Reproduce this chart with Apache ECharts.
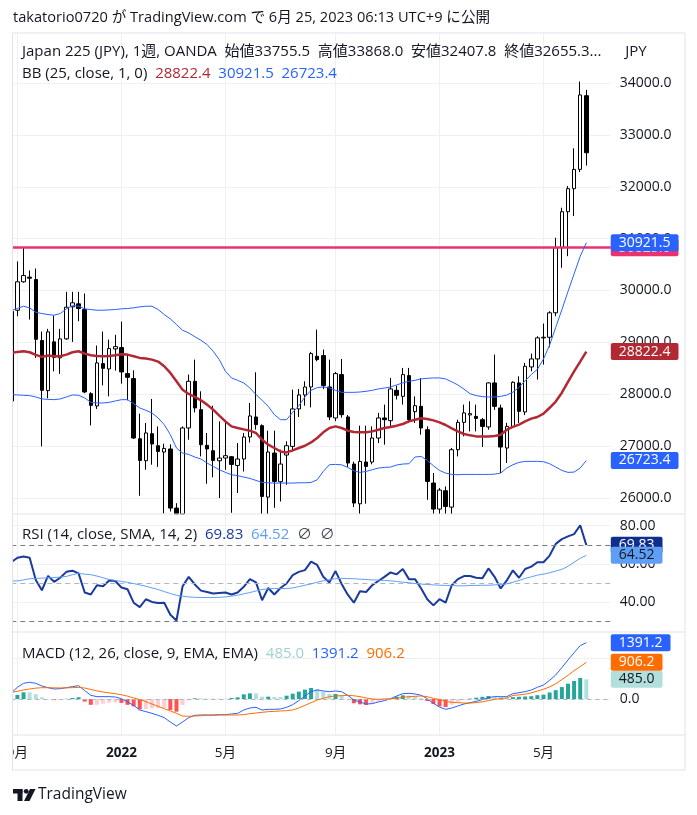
<!DOCTYPE html>
<html><head><meta charset="utf-8">
<script src="https://cdn.jsdelivr.net/npm/echarts@6/dist/echarts.min.js"></script>
<style>html,body{margin:0;padding:0;background:#fff;}#c{width:697px;height:815px;}</style>
</head><body><div id="c"></div>
<script>
// ---- weekly categories (Japan 225, 1W) ----
const firstWeek = '2021-08-30';
const categoryCount = 99; // 95 bars + right margin
const tickLabels = {'2021-09-06':'9月','2022-01-03':'2022','2022-05-02':'5月','2022-09-05':'9月','2023-01-02':'2023','2023-05-01':'5月'};
const mainTicks = [26000,27000,28000,29000,30000,31000,32000,33000,34000];
const rsiTicks = [40,60,80];
const macdTicks = [0,1000];
const levelLine = 30825;

const opens = [27870,29620,30168,30257,30212,29035,28070,29010,28702,29068,
29685,29743,29633,28012,27775,28591,28488,28875,28900,28398,
28302,27143,26719,27240,27008,26887,26945,25806,25170,27350,
28250,27703,27015,26912,26719,26771,26796,26628,26752,27176,
27562,27395,26018,26867,26314,26829,26995,27717,27987,28141,
28732,28746,28141,27543,28379,27563,26655,25889,26694,26694,
27157,27543,27491,28076,27960,28360,27665,27767,27317,26289,
25787,26140,25825,26931,27458,27601,27574,27510,27370,28219,
27736,26964,27381,28219,27659,28527,28681,29087,29099,29570,
30824,31519,31963,32335,33755.5];
const highs = [29650,30560,30830,30386,30425,29209,29261,29517,29261,29975,
29975,29975,29942,28040,28939,29209,29054,29145,29402,28765,
28462,27626,27447,27910,27380,27047,27034,25900,27380,28379,
28668,28057,27254,27780,27477,27491,26810,27060,27254,27833,
28423,27420,27298,27298,26931,27092,28089,28103,28250,28817,
29247,28861,28668,28430,28681,27600,26700,27395,27395,27381,
27640,27800,28315,28166,28508,28508,27960,28315,27381,26482,
26192,26223,26964,27510,27800,27864,27800,27543,28231,28765,
27800,27450,28250,28346,28605,28784,29118,29363,29601,31017,
31596,32013,32741,34028,33868.0];
const lows = [27850,29504,30150,29440,28700,26995,27921,28442,28392,29050,
29010,29408,28020,27400,27717,28172,27960,28456,28205,27883,
27138,26043,26545,26642,26600,25700,25740,24700,25050,27124,
27650,26802,26275,26400,26000,26545,25715,26096,26512,27072,
27317,25600,25600,25812,25933,26256,26898,27563,27780,27748,
28636,28100,27500,27480,27550,26600,25825,25600,25889,26650,
27060,27028,27381,27900,27800,27447,27447,27221,25966,25650,
25650,25650,25650,26802,27188,27285,27285,26983,27317,27700,
26482,26675,27350,27447,27600,28442,28282,28572,28906,29504,
30438,30662,31434,32283,32407.8];
const closes = [29600,30168,30290,30237,29060,28076,29203,28713,29068,29678,
29763,29653,28044,27786,28604,28500,28881,28919,28431,28327,
27157,26725,27254,27041,26898,26956,25806,25160,27350,28250,
27736,27028,26945,26725,26770,26816,26648,26752,27176,27582,
27414,26030,26887,26320,26655,27008,27717,27987,28141,28784,
28668,28166,27563,28398,27607,26675,25903,26705,26609,27157,
27543,27510,28103,27980,28379,27510,27780,27350,26320,25787,
26154,25837,26931,27458,27640,27626,27535,27381,28219,27767,
26983,27381,28231,27671,28539,28681,29087,29099,29570,30824,
31519,31963,32335,33770,32655.3];

const bbUpper = [29614,29653,29697,29666,29582,29556,29537,29524,29556,29647,
29711,29697,29647,29633,29620,29620,29627,29633,29647,29653,
29666,29685,29697,29697,29633,29537,29453,29344,29234,29183,
29110,29041,28958,28829,28668,28443,28315,28269,28219,28122,
27993,27883,27767,27607,27510,27510,27652,27780,27948,28076,
28128,28141,28122,28076,28037,28037,28037,28044,28057,28076,
28103,28120,28141,28180,28219,28250,28269,28296,28307,28315,
28315,28296,28240,28180,28100,28010,27974,27954,27948,27948,
27960,27985,28040,28135,28260,28380,28480,28680,28950,29290,
29630,29980,30320,30660,30921.5];
const bbLower = [27993,27987,27980,27974,27948,27910,27902,27896,27910,27948,
27987,27980,27929,27844,27832,27832,27844,27871,27896,27896,
27819,27736,27690,27640,27543,27414,27221,26964,26867,26840,
26790,26752,26675,26609,26545,26494,26449,26430,26404,26378,
26339,26300,26294,26288,26288,26288,26288,26294,26294,26300,
26352,26513,26642,26648,26640,26590,26526,26494,26513,26545,
26578,26590,26597,26636,26655,26661,26790,26802,26725,26622,
26532,26481,26455,26449,26455,26455,26455,26455,26455,26460,
26481,26578,26642,26687,26706,26706,26706,26700,26661,26597,
26532,26494,26500,26578,26723.4];
const bbBasis = [28797,28817,28829,28810,28759,28720,28746,28733,28733,28765,
28810,28829,28784,28752,28739,28733,28739,28752,28771,28765,
28733,28701,28688,28668,28630,28540,28411,28250,28089,28006,
27948,27883,27800,27703,27588,27478,27381,27350,27323,27298,
27254,27124,27028,26964,26898,26879,26918,26964,27008,27072,
27157,27266,27350,27381,27350,27298,27273,27266,27266,27285,
27317,27350,27370,27395,27427,27478,27510,27536,27523,27497,
27458,27408,27343,27285,27234,27208,27188,27188,27188,27195,
27221,27317,27370,27414,27478,27530,27562,27626,27740,27860,
28030,28240,28440,28630,28822.4];

const rsi = [60.9,63.3,63.9,63.3,51.6,46.3,53.8,50.7,52.8,55.9,
56.5,55.1,45.1,44.1,48.9,48.4,51.4,51.1,47.7,46.8,
39.8,37.5,41.6,40.2,39.6,39.8,33.5,30.5,48.4,53.3,
49.3,46.1,45.4,44.6,44.9,45.1,44.1,45.1,48.1,52.1,
50.4,41.1,47.5,44.1,47.5,49.8,54.2,55.9,56.8,61.2,
59.5,53.3,50.4,56.3,49.6,44.0,39.8,45.8,45.4,48.9,
51.1,53.3,55.6,54.6,57.4,52.1,52.1,47.2,41.6,38.4,
41.6,39.8,48.9,52.1,53.7,53.7,52.8,52.5,57.7,53.3,
47.2,51.4,56.7,52.8,57.4,58.6,60.9,60.9,64.4,70.5,
73.0,74.4,75.6,80.2,69.83];
const rsiMa = [51.1,51.2,51.7,52.3,52.5,52.6,52.8,52.9,53.2,53.5,
54.4,55.1,54.7,54.4,53.7,52.8,51.9,51.4,50.9,50.4,
49.8,49.1,48.4,47.5,46.7,45.6,44.6,43.7,43.2,42.8,
42.6,42.5,42.5,42.5,42.6,42.8,43.2,43.7,44.4,45.1,
45.9,46.7,47.0,47.2,47.2,47.2,47.5,48.2,48.9,49.6,
50.5,51.2,51.9,52.3,52.5,52.4,52.3,52.1,51.9,51.7,
51.6,51.4,51.2,50.9,50.5,50.2,49.8,49.5,49.3,49.1,
48.9,48.8,48.8,48.6,48.6,48.8,48.8,48.9,48.9,49.1,
49.3,49.6,50.5,51.4,52.5,53.3,54.2,54.7,55.4,56.3,
57.2,58.8,60.9,63.0,64.52];

const macd = [150,289,387,412,387,321,280,247,255,280,
305,330,206,91,58,58,58,49,8,-74,
-157,-272,-313,-354,-403,-461,-568,-667,-568,-461,
-403,-395,-395,-395,-387,-387,-370,-354,-272,-222,
-206,-272,-255,-255,-247,-206,-140,-41,74,181,
222,198,181,198,180,91,-25,-74,-124,-115,
-74,-41,8,74,132,140,124,91,8,-107,
-198,-255,-222,-173,-124,-91,-58,-16,33,58,
58,58,132,156,181,222,289,346,461,593,
774,963,1144,1318,1391.2];
const signal = [165,190,222,247,268,278,279,275,272,274,
280,287,270,235,200,172,150,130,105,70,
25,-16,-66,-124,-181,-239,-296,-354,-420,-428,
-420,-412,-403,-403,-395,-395,-395,-395,-387,-362,
-346,-329,-313,-305,-296,-288,-272,-222,-157,-91,
-25,16,58,74,82,88,80,58,25,0,
-8,0,8,16,41,58,66,74,58,16,
-16,-58,-82,-91,-100,-100,-90,-70,-40,-10,
10,25,87,101,119,152,195,240,300,375,
480,585,700,798,906.2];
const hist = [-15,99,165,165,119,43,1,-28,-17,6,
25,43,-64,-144,-142,-114,-92,-81,-97,-144,
-182,-256,-247,-230,-222,-222,-272,-313,-148,-33,
17,17,8,8,8,8,25,41,115,140,
140,57,58,50,49,82,132,181,231,272,
247,182,123,124,98,3,-105,-132,-149,-115,
-66,-41,0,58,91,82,58,17,-50,-123,
-182,-197,-140,-82,-24,9,32,54,73,68,
48,33,45,55,62,70,94,106,161,218,
294,378,444,520,485.0];

// ---- build ----
const FONT = '"Open Sans", "Noto Sans CJK JP", sans-serif';
const DARK = '#131722';
const AXF = 14;   // axis / tag font
const LGF = 15;   // legend font
const MAIN_MIN = 25692, MAIN_MAX = 34964;
const dates = [];
const t0 = Date.parse(firstWeek + 'T00:00:00Z');
for (let i = 0; i < categoryCount; i++) dates.push(new Date(t0 + i * 7 * 864e5).toISOString().slice(0, 10));
// candles are cut at the bottom edge of the price pane, as in the original
const clipLow = v => Math.max(v, MAIN_MIN);
const candles = opens.map((o, i) => [clipLow(o), clipLow(closes[i]), clipLow(lows[i]), clipLow(highs[i])]);
const last = a => a[a.length - 1];
const fmt = (v, d) => Number(v).toFixed(d);

const GL = 11.3, GRX = 610.8, GR = 697 - GRX;
const isTick = (idx, val) => tickLabels[val] !== undefined;
function xAx(gi, show) {
  return {
    type: 'category', gridIndex: gi, data: dates, boundaryGap: false,
    axisLine: {show: false}, axisTick: {show: false},
    axisLabel: {show: show, interval: isTick, margin: 11, color: DARK, fontSize: 13.5, fontFamily: FONT,
      formatter: v => { const t = tickLabels[v]; if (!t) return ''; return /^\d{4}$/.test(t) ? '{b|' + t + '}' : t; },
      rich: {b: {fontWeight: 'bold', fontSize: 13.5, fontFamily: FONT, color: DARK}}},
    splitLine: {show: true, interval: isTick, lineStyle: {color: '#EEF0F6', width: 1}}
  };
}
function yAx(gi, min, max, ticks, labels, dec) {
  return {
    type: 'value', gridIndex: gi, position: 'right', min: min, max: max,
    axisLine: {show: false}, axisTick: {show: false, customValues: ticks},
    axisLabel: {customValues: labels, margin: 9, color: DARK, fontSize: AXF, fontFamily: FONT, formatter: v => fmt(v, dec)},
    splitLine: {show: true, lineStyle: {color: '#EEF0F6', width: 1}}
  };
}
function tag(value, text, bg, fg) {
  return {yAxis: value, lineStyle: {color: 'rgba(0,0,0,0)', width: 0},
    label: {show: true, position: 'end', formatter: text, backgroundColor: bg, color: fg,
      padding: [2, 8, 1, 8], fontSize: AXF, fontFamily: FONT, distance: 0, borderRadius: 2}};
}
function ml(data) { return {silent: true, symbol: ['none', 'none'], animation: false, label: {show: false}, data: data}; }
function line(gi, data, color, width, z, mark) {
  const s = {type: 'line', xAxisIndex: gi, yAxisIndex: gi, data: data, showSymbol: false, symbol: 'none',
    lineStyle: {color: color, width: width}, itemStyle: {color: color}, z: z, silent: true};
  if (mark) s.markLine = ml(mark);
  return s;
}
function txt(x, y, parts, size, extra) {
  const rich = {}; let s = '';
  parts.forEach((p, k) => { rich['p' + k] = {fill: p[1], fontSize: size, fontFamily: FONT, fontWeight: p[2] || 'normal'}; s += '{p' + k + '|' + p[0] + '}'; });
  return {type: 'text', x: x, y: y, z: 200, silent: true,
    style: Object.assign({text: s, rich: rich, fontSize: size, fontFamily: FONT, verticalAlign: 'middle', textVerticalAlign: 'middle'}, extra || {})};
}
function histColor(p) {
  const i = p.dataIndex, v = hist[i], pv = i > 0 ? hist[i - 1] : 0;
  if (v >= 0) return v > pv ? '#26A69A' : '#B2DFDB';
  return v < pv ? '#FF5252' : '#FFCDD2';
}

const chart = echarts.init(document.getElementById('c'));
chart.setOption({
  animation: false,
  backgroundColor: '#ffffff',
  grid: [
    {left: GL, right: GR, top: 33, height: 481},
    {left: GL, right: GR, top: 514, height: 118},
    {left: GL, right: GR, top: 632, height: 103}
  ],
  xAxis: [xAx(0, false), xAx(1, false), xAx(2, true)],
  yAxis: [
    yAx(0, MAIN_MIN, MAIN_MAX, mainTicks, mainTicks, 1),
    yAx(1, 24.5, 86.1, rsiTicks, rsiTicks, 2),
    yAx(2, -889, 1654, macdTicks, [0], 1)
  ],
  series: [
    {type: 'candlestick', xAxisIndex: 0, yAxisIndex: 0, data: candles, barWidth: 4, z: 2, silent: true,
      itemStyle: {color: '#FFFFFF', color0: '#000000', borderColor: '#000000', borderColor0: '#000000', borderWidth: 1},
      markLine: {silent: true, symbol: ['none', 'none'], animation: false,
        data: [{yAxis: levelLine, lineStyle: {color: '#E8336E', width: 2.5, type: 'solid'},
          label: {show: true, position: 'end', formatter: fmt(levelLine, 1), backgroundColor: '#E8336E', color: '#fff',
            padding: [2, 8, 1, 8], fontSize: AXF, fontFamily: FONT, distance: 0, borderRadius: 2}}]}},
    line(0, bbBasis, '#B22833', 2.5, 3, [tag(last(bbBasis), fmt(last(bbBasis), 1), '#B22833', '#fff')]),
    line(0, bbLower, '#2962FF', 1, 4, [tag(last(bbLower), fmt(last(bbLower), 1), '#2962FF', '#fff')]),
    line(0, bbUpper, '#2962FF', 1, 5, [tag(last(bbUpper), fmt(last(bbUpper), 1), '#2962FF', '#fff')]),
    line(1, rsi, '#1A3A9C', 2, 4, [
      {yAxis: 70, lineStyle: {color: '#787B86', width: 1, type: [5, 4]}},
      {yAxis: 50, lineStyle: {color: '#B2B5BE', width: 1, type: [5, 4]}},
      {yAxis: 30, lineStyle: {color: '#787B86', width: 1, type: [5, 4]}},
      tag(last(rsi), fmt(last(rsi), 2), '#0E2F8E', '#fff')]),
    line(1, rsiMa, '#5E9FF5', 1, 5, [tag(last(rsiMa), fmt(last(rsiMa), 2), '#5E9FF5', DARK)]),
    {type: 'bar', xAxisIndex: 2, yAxisIndex: 2, data: hist, barWidth: 4, z: 2, silent: true,
      itemStyle: {color: histColor},
      markLine: ml([{yAxis: 0, lineStyle: {color: '#B2B5BE', width: 1, type: [4, 4]}},
        tag(last(hist), fmt(last(hist), 1), '#B2DFDB', DARK)])},
    line(2, macd, '#2962FF', 1, 4, [tag(last(macd), fmt(last(macd), 1), '#2962FF', '#fff')]),
    line(2, signal, '#FF6D00', 1, 5, [tag(last(signal), fmt(last(signal), 1), '#FF6D00', '#fff')])
  ],
  graphic: [
    {type: 'rect', z: 150, silent: true, shape: {x: 0, y: 30, width: 12.5, height: 745}, style: {fill: '#ffffff'}},
    {type: 'rect', z: 160, silent: true, shape: {x: 12.5, y: 33, width: 672.5, height: 737}, style: {fill: 'none', stroke: '#E0E3EB', lineWidth: 1}},
    {type: 'line', z: 160, silent: true, shape: {x1: 12.5, y1: 514, x2: 685, y2: 514}, style: {stroke: '#E0E3EB', lineWidth: 1}},
    {type: 'line', z: 160, silent: true, shape: {x1: 12.5, y1: 632, x2: 685, y2: 632}, style: {stroke: '#E0E3EB', lineWidth: 1}},
    {type: 'line', z: 160, silent: true, shape: {x1: 12.5, y1: 735, x2: 685, y2: 735}, style: {stroke: '#E0E3EB', lineWidth: 1}},
    txt(13, 18, [['takatorio0720 が TradingView.com で 6月 25, 2023 06:13 UTC+9 に公開', DARK]], 14.6),
    txt(22, 52, [['Japan 225 (JPY), 1週, OANDA  始値' + fmt(last(opens), 1) + '  高値' + fmt(last(highs), 1) + '  安値' + fmt(last(lows), 1) + '  終値' + fmt(last(closes), 1).slice(0, 7) + '...', DARK]], LGF),
    txt(22, 74, [['BB (25, close, 1, 0)  ', DARK], [fmt(last(bbBasis), 1), '#B22833'], ['  ' + fmt(last(bbUpper), 1), '#2962FF'], ['  ' + fmt(last(bbLower), 1), '#2962FF']], LGF),
    txt(636, 52, [['JPY', DARK]], LGF, {align: 'center', textAlign: 'center'}),
    txt(22, 535, [['RSI (14, close, SMA, 14, 2)  ', DARK], [fmt(last(rsi), 2), '#1A3A9C'], ['  ' + fmt(last(rsiMa), 2), '#5E9FF5'], ['  ∅  ∅', '#4A4E5A']], LGF),
    txt(22, 654, [['MACD (12, 26, close, 9, EMA, EMA)  ', DARK], [fmt(last(hist), 1), '#9FD3CE'], ['  ' + fmt(last(macd), 1), '#2962FF'], ['  ' + fmt(last(signal), 1), '#FF6D00']], LGF),
    {type: 'group', z: 200, silent: true, children: [
      {type: 'rect', shape: {x: 13, y: 789, width: 9.5, height: 4.5}, style: {fill: DARK}},
      {type: 'rect', shape: {x: 17.5, y: 789, width: 5, height: 12}, style: {fill: DARK}},
      {type: 'circle', shape: {cx: 26.2, cy: 791.3, r: 2.4}, style: {fill: DARK}},
      {type: 'polygon', shape: {points: [[30, 789], [35.5, 789], [29.5, 801], [24, 801]]}, style: {fill: DARK}}
    ]},
    txt(38, 795, [['TradingView', DARK]], 15.5)
  ]
});
</script>
</body></html>
